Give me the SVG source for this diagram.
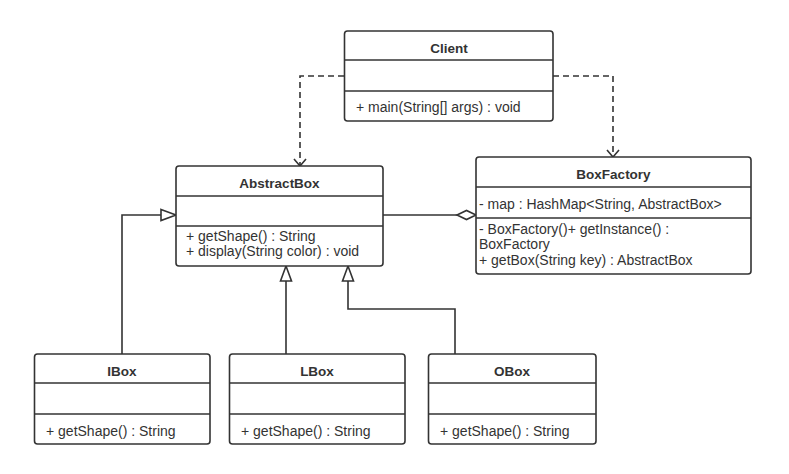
<svg xmlns="http://www.w3.org/2000/svg" width="789" height="474" viewBox="0 0 789 474">
<style>
.box{fill:#fff;stroke:#333;stroke-width:1.6}
.sep{stroke:#333;stroke-width:1.6}
.t{font-family:"Liberation Sans",Arial,sans-serif;font-size:14px;fill:#333}
.b{font-weight:bold;font-size:13.5px;text-anchor:middle}
.c{fill:none;stroke:#333;stroke-width:1.6}
.d{stroke-dasharray:6 4}
</style>
<defs>
<marker id="open" markerUnits="userSpaceOnUse" markerWidth="16" markerHeight="16" viewBox="-14 -8 16 16" refX="0" refY="0" orient="auto">
<path d="M-7,-6 L0,0 L-7,6" fill="none" stroke="#333" stroke-width="1.6"/>
</marker>
<marker id="tri" markerUnits="userSpaceOnUse" markerWidth="20" markerHeight="16" viewBox="-17 -8 20 16" refX="0" refY="0" orient="auto">
<path d="M-15,-5.5 L0,0 L-15,5.5 Z" fill="#fff" stroke="#333" stroke-width="1.6"/>
</marker>
<marker id="dia" markerUnits="userSpaceOnUse" markerWidth="24" markerHeight="14" viewBox="-22 -7 24 14" refX="0" refY="0" orient="auto">
<path d="M-19,0 L-9.5,-4.5 L0,0 L-9.5,4.5 Z" fill="#fff" stroke="#333" stroke-width="1.6"/>
</marker>
</defs>
<g id="connectors">
<path class="c d" d="M344,76 H300 V166" marker-end="url(#open)"/>
<path class="c d" d="M553,76 H613 V157" marker-end="url(#open)"/>
<path class="c" d="M383,215 H476" marker-end="url(#dia)"/>
<path class="c" d="M122,354 V215 H176" marker-end="url(#tri)"/>
<path class="c" d="M286,354 V266" marker-end="url(#tri)"/>
<path class="c" d="M455,354 V309 H348 V266" marker-end="url(#tri)"/>
</g>
<g id="Client">
<rect class="box" x="344.5" y="31" width="208.5" height="90" rx="3"/>
<line class="sep" x1="344.5" y1="60" x2="553" y2="60"/>
<line class="sep" x1="344.5" y1="91" x2="553" y2="91"/>
<text class="t b" x="449" y="52.5">Client</text>
<text class="t" x="356" y="111.5">+ main(String[] args) : void</text>
</g>
<g id="AbstractBox">
<rect class="box" x="176" y="166" width="207" height="100" rx="3"/>
<line class="sep" x1="176" y1="196" x2="383" y2="196"/>
<line class="sep" x1="176" y1="226" x2="383" y2="226"/>
<text class="t b" x="279.5" y="187.5">AbstractBox</text>
<text class="t" x="186" y="240.5">+ getShape() : String</text>
<text class="t" x="186" y="256.2">+ display(String color) : void</text>
</g>
<g id="BoxFactory">
<rect class="box" x="476" y="157" width="275" height="117" rx="3"/>
<line class="sep" x1="476" y1="187" x2="751" y2="187"/>
<line class="sep" x1="476" y1="218" x2="751" y2="218"/>
<text class="t b" x="613.5" y="178.5">BoxFactory</text>
<text class="t" x="479" y="208.5">- map : HashMap&lt;String, AbstractBox&gt;</text>
<text class="t" x="479" y="233.5">- BoxFactory()+ getInstance() :</text>
<text class="t" x="479" y="249.1">BoxFactory</text>
<text class="t" x="479" y="264.7">+ getBox(String key) : AbstractBox</text>
</g>
<g id="IBox">
<rect class="box" x="34.5" y="354" width="175.5" height="90" rx="3"/>
<line class="sep" x1="34.5" y1="383" x2="210" y2="383"/>
<line class="sep" x1="34.5" y1="414" x2="210" y2="414"/>
<text class="t b" x="122" y="375.5">IBox</text>
<text class="t" x="46" y="435.5">+ getShape() : String</text>
</g>
<g id="LBox">
<rect class="box" x="229.5" y="354" width="175.5" height="90" rx="3"/>
<line class="sep" x1="229.5" y1="383" x2="405" y2="383"/>
<line class="sep" x1="229.5" y1="414" x2="405" y2="414"/>
<text class="t b" x="317" y="375.5">LBox</text>
<text class="t" x="241" y="435.5">+ getShape() : String</text>
</g>
<g id="OBox">
<rect class="box" x="428.5" y="354" width="167.5" height="90" rx="3"/>
<line class="sep" x1="428.5" y1="383" x2="596" y2="383"/>
<line class="sep" x1="428.5" y1="414" x2="596" y2="414"/>
<text class="t b" x="512" y="375.5">OBox</text>
<text class="t" x="440" y="435.5">+ getShape() : String</text>
</g>
</svg>
